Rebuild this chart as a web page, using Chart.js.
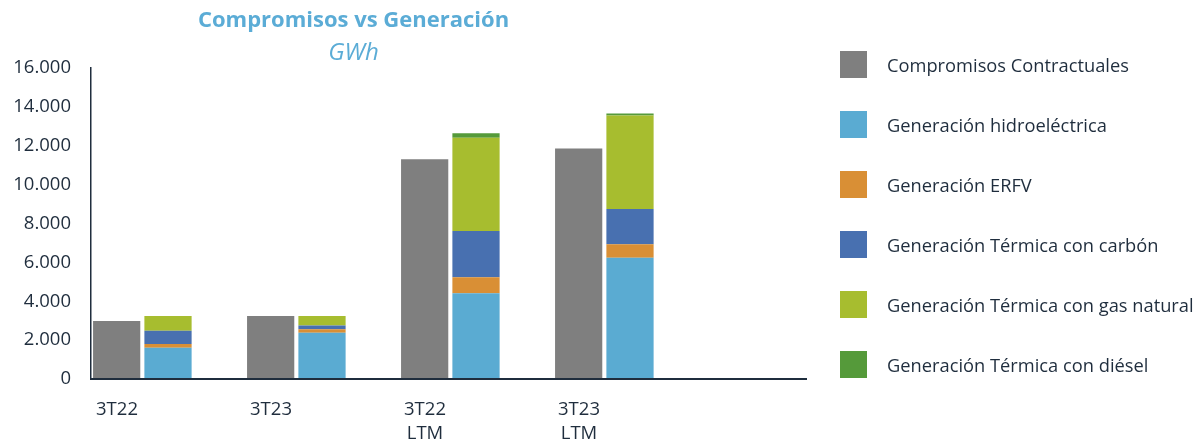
<!DOCTYPE html>
<html><head><meta charset="utf-8">
<script src="https://cdn.jsdelivr.net/npm/chart.js@4.4.0/dist/chart.umd.min.js"></script>
<style>
html,body{margin:0;padding:0;background:#fff;}
#wrap{position:relative;width:1202px;height:443px;overflow:hidden;}
canvas{position:absolute;left:0;top:0;}
#legend{position:absolute;left:840px;top:51px;font-family:'Open Sans',sans-serif;font-size:18.3px;color:#1f2d3d;}
.item{position:absolute;left:0;height:27px;white-space:nowrap;}
.sw{position:absolute;left:0;top:0;width:27px;height:27px;}
.lb{position:absolute;left:47px;top:0;line-height:27px;}
</style>
</head><body>
<div id="wrap"><canvas id="c" width="1202" height="443"></canvas><div id="legend"></div></div>
<script>
const categories = [['3T22'], ['3T23'], ['3T22', 'LTM'], ['3T23', 'LTM']];
const compromisos = [2980, 3240, 11310, 11870];
const hidro = [1610, 2380, 4420, 6240];
const erfv = [190, 175, 820, 700];
const carbon = [680, 205, 2380, 1810];
const gas = [760, 480, 4800, 4820];
const diesel = [0, 0, 230, 100];
const yTicks = [0, 2000, 4000, 6000, 8000, 10000, 12000, 14000, 16000];

const series = [
  {label: 'Compromisos Contractuales', data: compromisos, color: '#7f7f7f', stack: 'a'},
  {label: 'Generación hidroeléctrica', data: hidro, color: '#5aabd2', stack: 'b'},
  {label: 'Generación ERFV', data: erfv, color: '#d98f35', stack: 'b'},
  {label: 'Generación Térmica con carbón', data: carbon, color: '#4870b0', stack: 'b'},
  {label: 'Generación Térmica con gas natural', data: gas, color: '#a7bd2f', stack: 'b'},
  {label: 'Generación Térmica con diésel', data: diesel, color: '#559a3a', stack: 'b'}
];

const datasets = series.map(s => ({
  label: s.label, data: s.data, backgroundColor: s.color, stack: s.stack,
  barPercentage: 0.92, categoryPercentage: 1.0, borderWidth: 0
}));
// empty spacer stack so each group sits on the left of its category
datasets.push({label: '', data: categories.map(() => null), stack: 'z', barPercentage: 0.92, categoryPercentage: 1.0, backgroundColor: 'rgba(0,0,0,0)'});

const fmt = v => String(v).replace(/\B(?=(\d{3})+(?!\d))/g, '.');
const textColor = '#1f2d3d';

const axisLine = {
  id: 'axisLine',
  afterDraw(chart) {
    const {ctx, chartArea: a} = chart;
    ctx.save();
    ctx.strokeStyle = textColor;
    ctx.lineWidth = 2;
    ctx.beginPath();
    ctx.moveTo(a.left - 1, a.bottom);
    ctx.lineTo(a.right + 100, a.bottom);
    ctx.stroke();
    ctx.restore();
  }
};

new Chart(document.getElementById('c'), {
  type: 'bar',
  data: {labels: categories, datasets},
  plugins: [axisLine],
  options: {
    responsive: false, animation: false, devicePixelRatio: 1,
    layout: {padding: {left: 0, right: 495, top: 0, bottom: 0}},
    plugins: {
      legend: {display: false},
      tooltip: {enabled: false},
      title: {display: true, text: 'Compromisos vs Generación', color: '#5bacd6',
        font: {family: 'Open Sans', size: 22, weight: 'bold', lineHeight: 1.2}, padding: {top: 8, bottom: 0}},
      subtitle: {display: true, text: 'GWh', color: '#5bacd6',
        font: {family: 'Open Sans', size: 24, style: 'italic', lineHeight: 1.2}, padding: {top: 4, bottom: 1}}
    },
    scales: {
      x: {
        stacked: true,
        grid: {display: false, drawTicks: false},
        border: {display: false},
        ticks: {color: textColor, font: {family: 'Open Sans', size: 18.5, lineHeight: 1.324}, padding: 18, labelOffset: -51, maxRotation: 0, autoSkip: false},
        afterFit: s => { s.height = 64; }
      },
      y: {
        stacked: true, min: 0, max: 16000,
        grid: {display: false, drawTicks: false},
        border: {display: true, color: textColor, width: 1.5},
        afterBuildTicks: s => { s.ticks = yTicks.map(v => ({value: v})); },
        ticks: {color: textColor, font: {family: 'Open Sans', size: 18.5}, padding: 20, callback: v => fmt(v)},
        afterFit: s => { s.width = 91; }
      }
    }
  }
});

const lg = document.getElementById('legend');
series.forEach((s, i) => {
  const it = document.createElement('div');
  it.className = 'item';
  it.style.top = (i * 60) + 'px';
  const sw = document.createElement('div'); sw.className = 'sw'; sw.style.background = s.color;
  const lb = document.createElement('div'); lb.className = 'lb'; lb.textContent = s.label;
  it.appendChild(sw); it.appendChild(lb); lg.appendChild(it);
});
</script>
</body></html>
